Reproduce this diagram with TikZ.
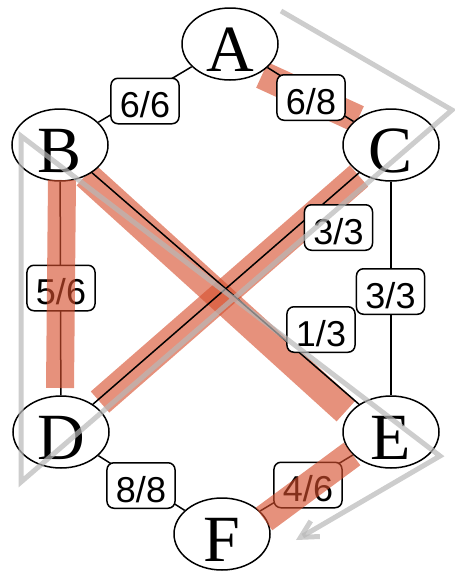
\documentclass[tikz,border=0pt]{standalone}
\usepackage{fontspec}
\setmainfont{Liberation Serif}
\newfontfamily\labfont{Liberation Sans}
\usetikzlibrary{shapes.geometric,arrows.meta}
\definecolor{bandred}{RGB}{214,78,44}
\definecolor{trailgray}{RGB}{184,184,184}
\pgfdeclarelayer{bg}
\pgfsetlayers{bg,main}
\tikzset{
 vert/.style={ellipse,draw,line width=1.5pt,fill=white,inner xsep=0pt,inner ysep=-2.5pt,minimum width=96pt,minimum height=72pt,font=\fontsize{66}{66}\selectfont,text height=55.7pt,text depth=0pt},
 wlab/.style={draw,line width=1.5pt,fill=white,rounded corners=7pt,font=\labfont\fontsize{36}{36}\selectfont,inner xsep=9pt,inner ysep=5pt,text height=34.5pt,text depth=1pt},
 edge/.style={line width=1.5pt},
 band/.style={line width=28pt,bandred,opacity=0.62},
 trail/.style={line width=5pt,trailgray,opacity=0.7,-{Straight Barb[length=17pt,width=18pt]}}
}
\begin{document}
\begin{tikzpicture}[x=1pt,y=-1pt]
\useasboundingbox (0,0) rectangle (455,573);
% vertices
\node[vert] (A) at (230,44) {A};
\node[vert] (B) at (60,145) {B};
\node[vert] (C) at (391,145) {C};
\node[vert] (D) at (61,432) {D};
\node[vert] (E) at (391,432) {E};
\node[vert] (F) at (222,534) {F};
% band coordinates
\coordinate (ac1) at (262,75);  \coordinate (ac2) at (358,119);
\coordinate (cd1) at (359,176); \coordinate (cd2) at (100,402);
\coordinate (be1) at (86,175);  \coordinate (be2) at (346,411);
\coordinate (bd1) at (62,180);  \coordinate (bd2) at (60,388);
\coordinate (ef1) at (352,454); \coordinate (ef2) at (264,519);
\begin{pgfonlayer}{bg}
\draw[band] (ac1) -- (ac2);
\draw[band] (cd1) -- (cd2);
\draw[band] (be1) -- (be2);
\end{pgfonlayer}
% edges
\draw[edge] (A) -- (B);
\draw[edge] (A) -- (C);
\draw[edge] (B) -- (D);
\draw[edge] (B) -- (E);
\draw[edge] (C) -- (D);
\draw[edge] (C) -- (E);
\draw[edge] (D) -- (F);
\draw[edge] (E) -- (F);
% labels
\node[wlab] (lab) at (145,101) {6/6};
\node[wlab] (lac) at (311,97.5) {6/8};
\node[wlab] (lcd) at (338.5,227.5) {3/3};
\node[wlab] (lce) at (390.5,291.5) {3/3};
\node[wlab] (lbe) at (321,329.5) {1/3};
\node[wlab] (lbd) at (61,288) {5/6};
\node[wlab] (ldf) at (141,485.5) {8/8};
\node[wlab] (lef) at (308,485) {4/6};
% bands on top
\draw[band] (bd1) -- (bd2);
\draw[band] (ef1) -- (ef2);
% gray trail
\coordinate (t0) at (281,11);
\coordinate (t1) at (452,110);
\coordinate (t2) at (21,482);
\coordinate (t3) at (21,136);
\coordinate (t4) at (440,456);
\coordinate (t5) at (296,540);
\draw[trail] (t0) -- (t1) -- (t2) -- (t3) -- (t4) -- (t5);
\end{tikzpicture}
\end{document}
